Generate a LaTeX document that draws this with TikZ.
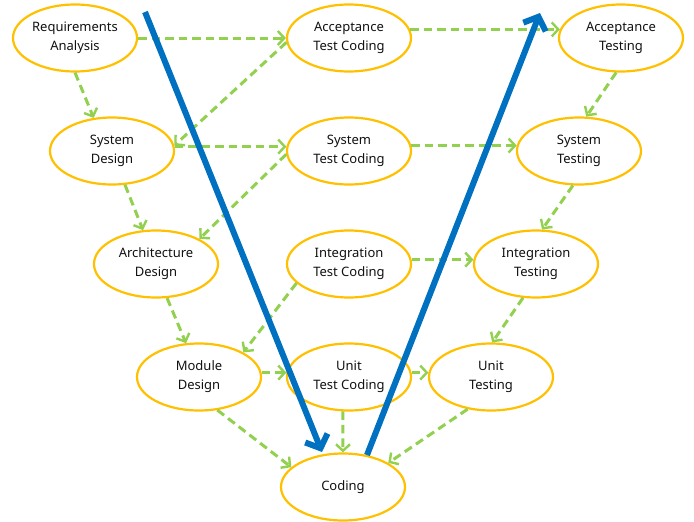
\documentclass[tikz,border=0pt]{standalone}
\usepackage{fontspec}
\setmainfont{Noto Sans}
\usetikzlibrary{arrows.meta,shapes.geometric}
\definecolor{vgreen}{HTML}{92D050}
\definecolor{vorange}{HTML}{FFC000}
\definecolor{vblue}{HTML}{0070C0}
\definecolor{vtext}{HTML}{111111}
\begin{document}
\begin{tikzpicture}[x=1pt,y=-1pt,
  phase/.style={ellipse,draw=vorange,line width=2.2pt,minimum width=124pt,minimum height=67pt,
    inner sep=0pt,align=center,font=\fontsize{13}{19}\selectfont,text=vtext},
  flow/.style={draw=vgreen,line width=3pt,dash pattern=on 8.5pt off 5pt,
    -{Straight Barb[length=6.5pt,width=14pt,line width=2.4pt]}},
  vline/.style={draw=vblue,line width=6pt,
    -{Straight Barb[length=11pt,width=24pt,line width=6pt]}}]
\useasboundingbox (0,0) rectangle (694,522);
% left column
\node[phase] (RA) at (75,38) {Requirements\\Analysis};
\node[phase] (SD) at (112,151) {System\\Design};
\node[phase] (AD) at (156,264) {Architecture\\Design};
\node[phase] (MD) at (199,377) {Module\\Design};
\node[phase] (C) at (343,487) {Coding};
% middle column
\node[phase] (ATC) at (349,38) {Acceptance\\Test Coding};
\node[phase] (STC) at (349,151) {System\\Test Coding};
\node[phase] (ITC) at (349,264) {Integration\\Test Coding};
\node[phase] (UTC) at (349,377) {Unit\\Test Coding};
% right column
\node[phase] (AT) at (621,38) {Acceptance\\Testing};
\node[phase] (ST) at (579,151) {System\\Testing};
\node[phase] (IT) at (536,264) {Integration\\Testing};
\node[phase] (UT) at (491,377) {Unit\\Testing};
% green dashed flows
\draw[flow] (RA.east) -- (ATC.west);
\draw[flow] (ATC.184) -- (SD.5);
\draw[flow] (RA.270) -- (SD.119);
\draw[flow] (SD.4) -- (STC.176);
\draw[flow] (STC.183) -- (AD.30);
\draw[flow] (SD.291) -- (AD.111);
\draw[flow] (AD.288) -- (MD.111);
\draw[flow] (ITC.200) -- (MD.29);
\draw[flow] (MD.4) -- (UTC.176);
\draw[flow] (MD.299) -- (C.159);
\draw[flow] (UTC.260) -- (C.north);
\draw[flow] (ITC.4) -- (IT.176);
\draw[flow] (ATC.8) -- (AT.172);
\draw[flow] (STC.5) -- (ST.175);
\draw[flow] (AT.262) -- (ST.78);
\draw[flow] (ST.260) -- (IT.80);
\draw[flow] (IT.249) -- (UT.88);
\draw[flow] (UTC.4) -- (UT.176);
\draw[flow] (UT.234) -- (C.28);
% blue V arrows
\coordinate (downS) at (145,12);
\coordinate (downE) at (322,452);
\coordinate (upS) at (367,455);
\coordinate (upE) at (540,13);
\draw[vline] (downS) -- (downE);
\draw[vline] (upS) -- (upE);
\end{tikzpicture}
\end{document}
